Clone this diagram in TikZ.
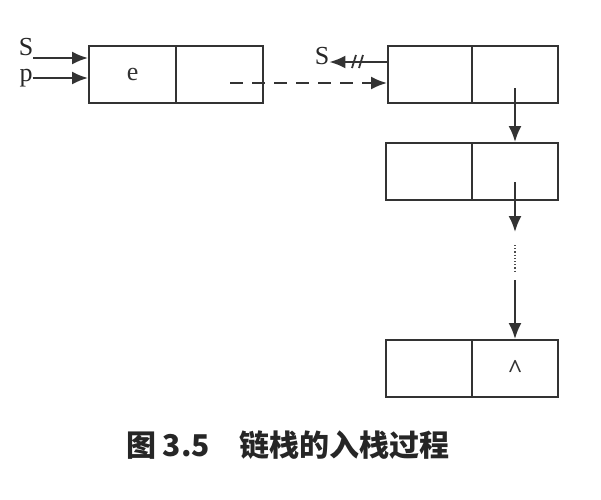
\documentclass[tikz,border=0pt]{standalone}
\usepackage{fontspec}
\setmainfont{Liberation Serif}
\newfontfamily\cjk{Noto Sans CJK SC}
\usetikzlibrary{arrows.meta,decorations.pathmorphing}
\begin{document}
\begin{tikzpicture}[x=1pt,y=-1pt,
  cell/.style={draw,line width=2.2pt,minimum height=57pt,inner sep=0pt,anchor=north west,color=black!80},
  arr/.style={line width=2pt,color=black!80,-{Latex[length=16pt,width=13pt]}},
  lbl/.style={font=\fontsize{26}{26}\selectfont,color=black!85,inner sep=0pt}]
\useasboundingbox (0,0) rectangle (601,499);
\fill[white] (0,0) rectangle (601,499);
% box 1
\node[cell,minimum width=87pt] (a1) at (88,45) {\fontsize{26}{26}\selectfont e};
\node[cell,minimum width=87pt] (a2) at (175,45) {};
% box 2
\node[cell,minimum width=84pt] (b1) at (387,45) {};
\node[cell,minimum width=86pt] (b2) at (471,45) {};
% box 3
\node[cell,minimum width=86pt] (c1) at (385,142) {};
\node[cell,minimum width=86pt] (c2) at (471,142) {};
% box 4
\node[cell,minimum width=86pt] (d1) at (385,339) {};
\node[cell,minimum width=86pt] (d2) at (471,339) {\fontsize{26}{26}\selectfont\textbf{\^{}}};
% labels
\node[lbl] (s1) at (26,47) {S};
\node[lbl] (p1) at (26,78) {p};
\node[lbl] (s2) at (322,56) {S};
\draw[arr] (s1.east |- 0,58) -- (a1.west |- 0,58);
\draw[arr] (p1.east |- 0,78) -- (a1.west |- 0,78);
\draw[arr] (b1.west |- 0,62) -- (s2.east |- 0,62);
\draw[line width=1.8pt,black!80] (356,55) -- (352,68) (363,55) -- (359,68);
\coordinate (ds) at (230,83);
\draw[arr,dashed,dash pattern=on 13pt off 9pt] (ds) -- (b1.west |- 0,83);
\draw[arr] (515,88) -- (c2.north -| 515,0);
\draw[arr] (515,182) -- (515,232);
\draw[line width=1.2pt,dotted,black!70] (515,245) -- (515,272);
\draw[arr] (515,280) -- (d2.north -| 515,0);
\node[font=\cjk\bfseries\fontsize{30}{30}\selectfont,color=black!85] (cap) at (288,445) {图 3.5\quad 链栈的入栈过程};
\end{tikzpicture}
\end{document}
